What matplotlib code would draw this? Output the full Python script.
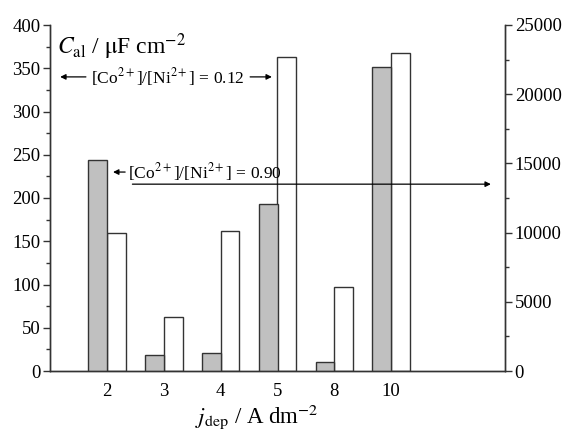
import matplotlib.pyplot as plt
import numpy as np
from matplotlib.ticker import MultipleLocator

plt.rcParams['font.family'] = ['Liberation Serif', 'DejaVu Serif']
plt.rcParams['mathtext.fontset'] = 'stix'

j_dep = ['2', '3', '4', '5', '8', '10']
c_090 = [244, 18, 21, 193, 10, 351]          # grey bars, left axis
c_012 = [9950, 3880, 10100, 22700, 6050, 23000]  # white bars, right axis

pos = np.arange(1, len(j_dep) + 1)
w = 0.33

fig = plt.figure(figsize=(5.62, 4.32), dpi=100)
ax = fig.add_axes([50/562, 1 - 371/432, 455/562, 346/432])
ax2 = ax.twinx()
# left axes on top so the annotation lines cross the white bars
ax.set_zorder(ax2.get_zorder() + 1)
ax.patch.set_visible(False)

ax.bar(pos - w/2, c_090, width=w, color='#c0c0c0', edgecolor='#333333', linewidth=1.0)
ax2.bar(pos + w/2, c_012, width=w, color='white', edgecolor='#333333', linewidth=1.0)

ax.set_xlim(0, 8)
ax.set_ylim(0, 400)
ax2.set_ylim(0, 25000)
ax.set_xticks(pos)
ax.set_xticklabels(j_dep)
ax.tick_params(axis='x', length=0, labelsize=13.5, pad=9)
ax.yaxis.set_major_locator(MultipleLocator(50))
ax.yaxis.set_minor_locator(MultipleLocator(25))
ax2.yaxis.set_major_locator(MultipleLocator(5000))
ax2.yaxis.set_minor_locator(MultipleLocator(2500))
for a in (ax, ax2):
    a.tick_params(axis='y', which='major', length=5, width=1, labelsize=13.5, colors='#333333', labelcolor='black', pad=2)
    a.tick_params(axis='y', which='minor', length=3, width=1, colors='#333333')
    a.spines['top'].set_visible(False)
    for s in ('left', 'right', 'bottom'):
        a.spines[s].set_color('#333333')
        a.spines[s].set_linewidth(1.0)

ax.set_xlabel(r'$j_{\mathrm{dep}}$ / A dm$^{-2}$', fontsize=16.5, labelpad=0)
ax.xaxis.set_label_coords(0.455, -0.09)

ax.text(0.12, 375, r'$C_{\mathrm{al}}$ / $\mathrm{\mu}$F cm$^{-2}$', fontsize=17, va='center', ha='left')

# ratio 0.12 annotation, arrows both ways
ax.text(2.07, 340, r'[Co$^{2+}$]/[Ni$^{2+}$] = 0.12', fontsize=12.5, ha='center', va='center')
ax.annotate('', xy=(0.13, 340), xytext=(0.68, 340),
            arrowprops=dict(arrowstyle='-|>', color='black', lw=0.9, mutation_scale=8))
ax.annotate('', xy=(3.95, 340), xytext=(3.47, 340),
            arrowprops=dict(arrowstyle='-|>', color='black', lw=0.9, mutation_scale=8))

# ratio 0.90 annotation
ax.text(1.37, 230, r'[Co$^{2+}$]/[Ni$^{2+}$] = 0.90', fontsize=12.5, ha='left', va='center')
ax.annotate('', xy=(1.06, 230), xytext=(1.37, 230),
            arrowprops=dict(arrowstyle='-|>', color='black', lw=0.9, mutation_scale=8))
ax.annotate('', xy=(7.8, 216), xytext=(1.4, 216),
            arrowprops=dict(arrowstyle='-|>', color='black', lw=0.9, mutation_scale=8))

plt.savefig('out.png', dpi=100)
plt.close()
